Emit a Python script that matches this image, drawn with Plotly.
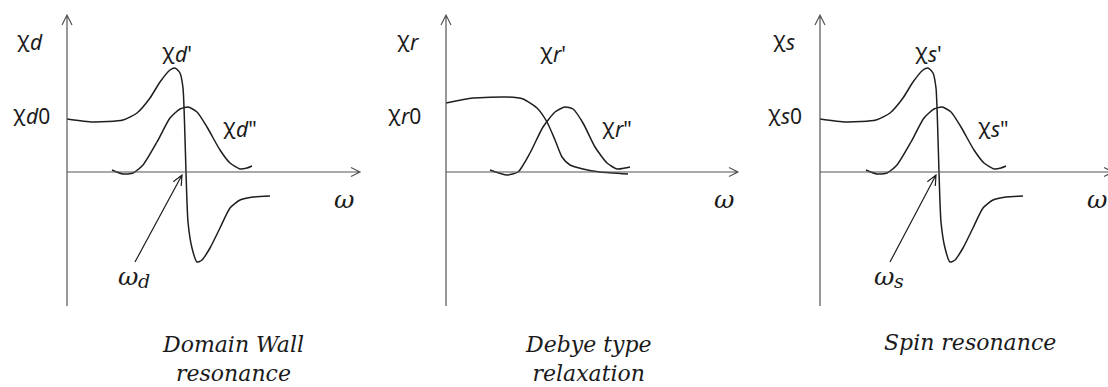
import math
import plotly.graph_objects as go

# ---------------------------------------------------------------------------
# Schematic susceptibility spectra (arbitrary units, 1 unit = 10 px)
# ---------------------------------------------------------------------------

# Domain wall resonance: real part chi' and imaginary part chi''
dw_re_w   = [0.0, 2.6, 5.6, 7.0, 8.3, 9.3, 10.3, 10.8, 11.3, 11.6, 11.75, 11.9, 12.1, 12.5, 13.0, 13.5, 14.3, 15.3, 16.3, 17.3, 18.6, 20.3]
dw_re_chi = [5.3, 5.0, 5.2, 5.9, 7.4, 9.0, 10.2, 10.4, 9.9, 8.4, 5.0, 0.0, -5.0, -7.6, -9.0, -8.8, -7.6, -5.6, -3.6, -2.8, -2.5, -2.4]
dw_im_w   = [4.5, 5.6, 6.6, 7.6, 9.0, 10.3, 11.3, 12.1, 13.0, 14.0, 15.3, 16.3, 17.3, 18.0, 18.5]
dw_im_chi = [0.2, -0.2, -0.1, 0.7, 3.0, 5.4, 6.3, 6.5, 6.0, 4.5, 2.2, 0.9, 0.3, 0.4, 0.6]

# Debye type relaxation
db_re_w   = [0.0, 2.7, 6.1, 7.7, 9.1, 10.1, 10.9, 11.6, 12.4, 13.7, 15.4, 18.2]
db_re_chi = [6.9, 7.4, 7.5, 7.3, 6.4, 5.0, 3.2, 1.5, 0.7, 0.3, 0.0, -0.2]
db_im_w   = [4.4, 6.1, 7.2, 8.4, 9.7, 10.9, 11.9, 12.7, 13.7, 14.9, 16.1, 17.1, 17.9, 18.4]
db_im_chi = [0.2, -0.3, 0.0, 1.9, 4.5, 6.0, 6.5, 6.3, 4.9, 2.5, 0.9, 0.3, 0.4, 0.5]

# Spin resonance
sp_re_w   = [0.0, 2.6, 5.6, 7.0, 8.3, 9.3, 10.3, 10.8, 11.3, 11.6, 11.75, 11.9, 12.1, 12.5, 13.0, 13.5, 14.3, 15.3, 16.3, 17.3, 18.6, 20.3]
sp_re_chi = [5.3, 5.0, 5.2, 5.9, 7.4, 9.0, 10.2, 10.4, 9.9, 8.4, 5.0, 0.0, -5.0, -7.6, -9.0, -8.8, -7.6, -5.6, -3.6, -2.8, -2.5, -2.4]
sp_im_w   = [4.6, 5.7, 6.7, 7.7, 9.1, 10.4, 11.4, 12.2, 13.1, 14.1, 15.4, 16.4, 17.4, 18.1, 18.6]
sp_im_chi = [0.2, -0.2, -0.1, 0.7, 3.0, 5.4, 6.3, 6.5, 6.0, 4.5, 2.2, 0.9, 0.3, 0.4, 0.6]

# Resonance frequency pointers (tail -> head)
dw_pointer = [(6.8, -9.0), (11.5, -0.3)]
sp_pointer = [(7.0, -9.0), (11.6, -0.3)]

# Text
panel_titles = ["Domain Wall<br>resonance", "Debye type<br>relaxation", "Spin resonance"]
sub = ["d", "r", "s"]

# label anchor points (where chi meets its index), per panel:
# [axis label, static value, real part, imaginary part]
chi_label_x = [[-3.7, -4.1, 10.8, 16.9],
               [-3.6, -4.5, 10.7, 16.9],
               [-3.4, -3.9, 10.8, 17.1]]
chi_label_y = [13.3, 5.9, 12.1, 4.6]
chi_label_tail = ["", "0", "'", "\""]

# ---------------------------------------------------------------------------
W, H = 1108, 387
PX = 10.0                      # pixels per data unit
ORIGIN_Y = 172                 # shared baseline (pixels from top)
origin_x = [67, 446, 820]      # vertical axis positions (pixels from left)
y_axis_top = 15.7
y_axis_bottom = -13.4
x_axis_end = [29.3, 29.2, 29.3]

CURVE = "#1e1e1e"
AXIS = "#555555"
TXT = "#1a1a1a"
SYM_FONT = "Noto Sans"
ITAL_FONT = "DejaVu Serif"

fig = go.Figure()
layout = dict(width=W, height=H, margin=dict(l=0, r=0, t=0, b=0),
              paper_bgcolor="white", plot_bgcolor="white", showlegend=False)

for i in range(3):
    d0, d1 = i / 3, (i + 1) / 3
    lo = -(origin_x[i] - d0 * W) / PX
    hi = (d1 * W - origin_x[i]) / PX
    sx = "" if i == 0 else str(i + 1)
    layout["xaxis" + sx] = dict(domain=[d0, d1], range=[lo, hi], visible=False,
                                anchor="y" + sx, fixedrange=True)
    layout["yaxis" + sx] = dict(domain=[0, 1],
                                range=[-(H - ORIGIN_Y) / PX, ORIGIN_Y / PX],
                                visible=False, anchor="x" + sx, fixedrange=True)

fig.update_layout(**layout)

series = [
    [(dw_re_w, dw_re_chi), (dw_im_w, dw_im_chi)],
    [(db_re_w, db_re_chi), (db_im_w, db_im_chi)],
    [(sp_re_w, sp_re_chi), (sp_im_w, sp_im_chi)],
]

shapes = []
annotations = []


def text(x, y, xr, yr, s, family, size, anchor="center"):
    annotations.append(dict(x=x, y=y, xref=xr, yref=yr, text=s, showarrow=False,
                            font=dict(family=family, size=size, color=TXT),
                            xanchor=anchor, yanchor="middle", align="center",
                            borderpad=0, borderwidth=0))


def symbol(x, y, xr, yr, base, index, base_font, base_size, idx_font, idx_size, drop):
    """Symbol followed by a lowered italic index."""
    text(x, y, xr, yr, base, base_font, base_size, "right")
    text(x, y - drop, xr, yr, index, idx_font, idx_size, "left")


for i in range(3):
    sx = "" if i == 0 else str(i + 1)
    xr, yr = "x" + sx, "y" + sx
    for w, c in series[i]:
        fig.add_trace(go.Scatter(x=w, y=c, mode="lines", xaxis=xr, yaxis=yr,
                                 line=dict(color=CURVE, width=1.5, shape="spline", smoothing=0.6),
                                 hoverinfo="skip"))
    # axes with open arrow heads
    xe = x_axis_end[i]
    path = (f"M 0,{y_axis_bottom} L 0,{y_axis_top} "
            f"M -0.5,{y_axis_top - 1.0} L 0,{y_axis_top} L 0.5,{y_axis_top - 1.0} "
            f"M 0,0 L {xe},0 M {xe - 0.9},0.45 L {xe},0 L {xe - 0.9},-0.45")
    shapes.append(dict(type="path", path=path, xref=xr, yref=yr,
                       line=dict(color=AXIS, width=1.2)))

    s = sub[i]
    for k in range(4):
        symbol(chi_label_x[i][k], chi_label_y[k], xr, yr, "χ",
               f"<i>{s}</i>{chi_label_tail[k]}", SYM_FONT, 21, SYM_FONT, 21, 0.3)
    text([27.7, 27.8, 27.75][i], -2.7, xr, yr, "<i>ω</i>", ITAL_FONT, 25)
    text([16.6, 14.2, 15.0][i], [-18.7, -18.7, -17.0][i], xr, yr,
         f"<i>{panel_titles[i]}</i>", ITAL_FONT, 22)

# resonance frequency pointers
for (tail, head), xr, yr, s in [(dw_pointer, "x", "y", "d"), (sp_pointer, "x3", "y3", "s")]:
    (x0, y0), (x1, y1) = tail, head
    ang = math.atan2(y1 - y0, x1 - x0)
    hl, hw = 1.0, 0.45
    bx, by = x1 - hl * math.cos(ang), y1 - hl * math.sin(ang)
    px, py = -math.sin(ang) * hw, math.cos(ang) * hw
    path = (f"M {x0},{y0} L {x1},{y1} M {bx + px},{by + py} L {x1},{y1} L {bx - px},{by - py}")
    shapes.append(dict(type="path", path=path, xref=xr, yref=yr,
                       line=dict(color=CURVE, width=1.2)))
    symbol(x0 + 0.3 if s == "d" else x0 + 0.4, -10.4, xr, yr, "<i>ω</i>", f"<i>{s}</i>",
           ITAL_FONT, 25, ITAL_FONT, 19, 0.5)

fig.update_layout(shapes=shapes, annotations=annotations)
fig.write_html("out.html")
